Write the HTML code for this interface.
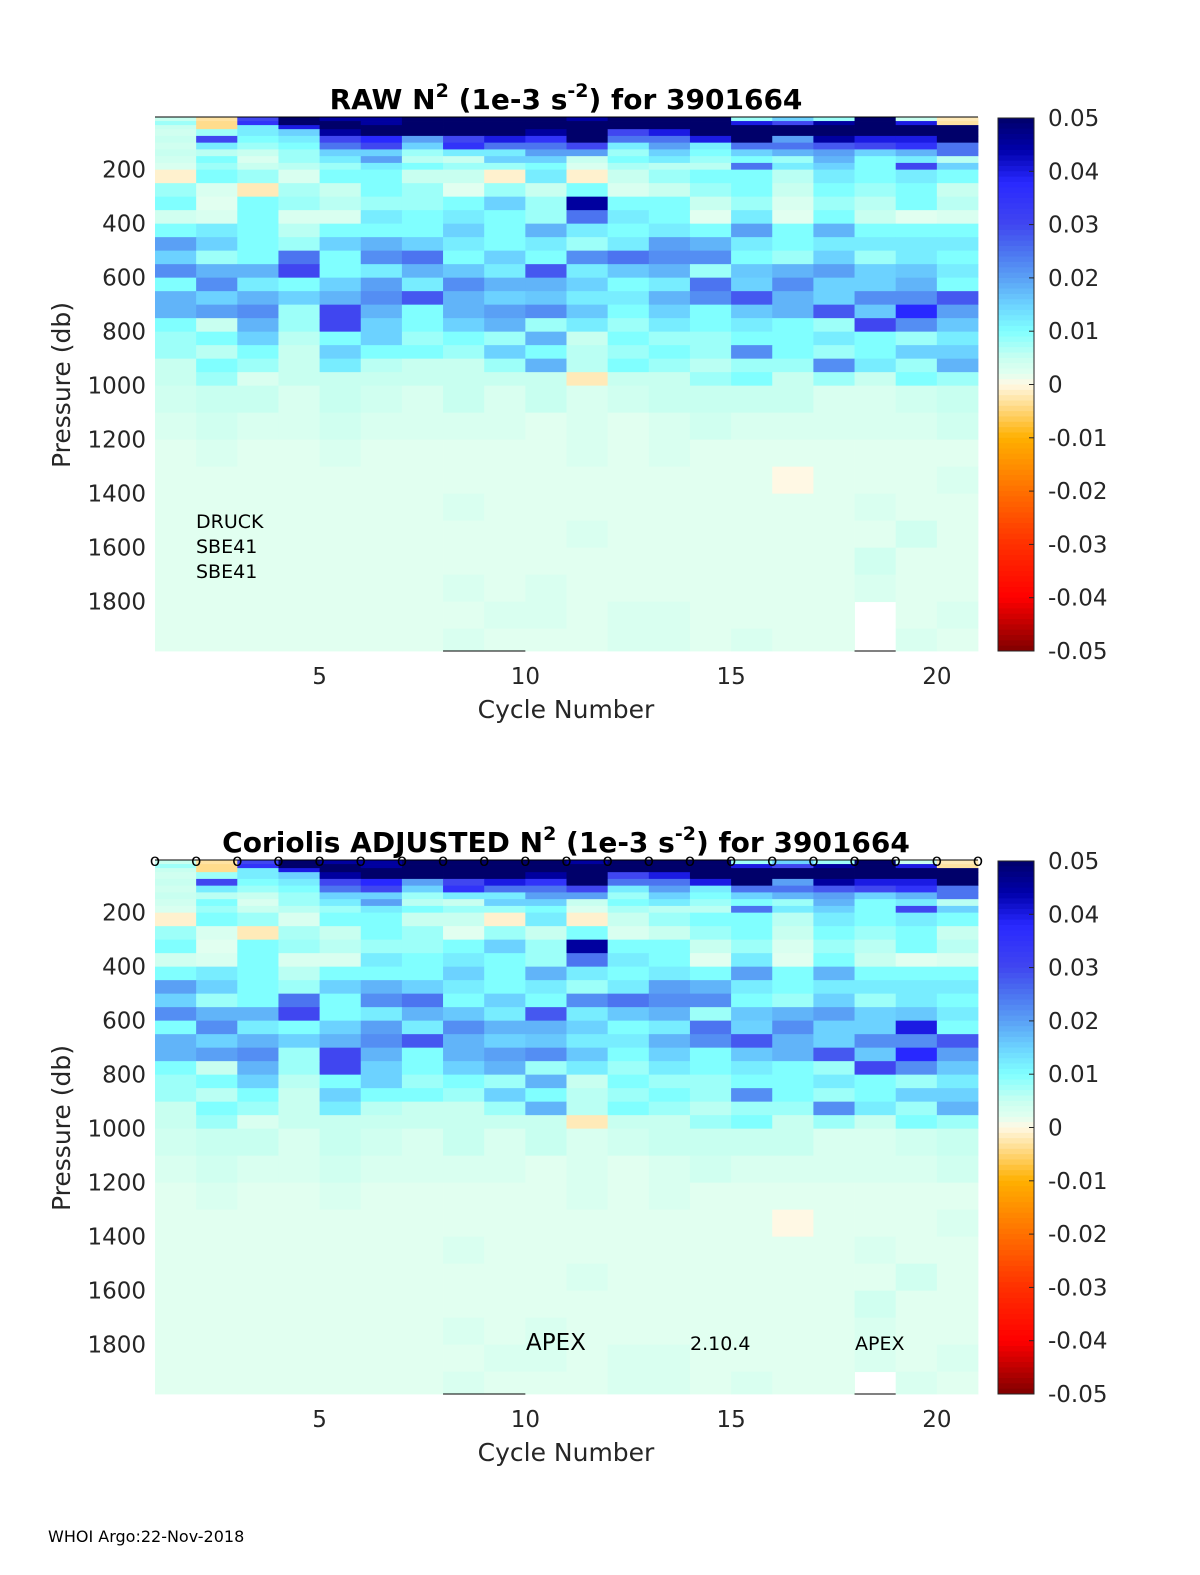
<!DOCTYPE html>
<html><head><meta charset="utf-8"><style>
html,body{margin:0;padding:0;background:#fff;width:1200px;height:1575px;overflow:hidden}
svg{display:block;font-family:"DejaVu Sans","Liberation Sans",sans-serif}
</style></head><body>
<svg id="fig" width="1200" height="1575" viewBox="0 0 1200 1575"></svg>
<script>
// ---- data (N^2 in 1e-3 s^-2, per cycle 1..20, per pressure bin) ----
const cycles = [1,2,3,4,5,6,7,8,9,10,11,12,13,14,15,16,17,18,19,20];
const pressureEdges = [5,20,35,50,75,100,125,150,175,200,250,300,350,400,450,500,550,600,650,700,750,800,850,900,950,1000,1100,1200,1300,1400,1500,1600,1700,1800,1900,1985];
const rawValues = [
[5,-3,30,50,45,45,50,50,50,50,45,50,50,50,8,15,8,50,5,-2],
[8,-4,35,50,50,45,50,50,50,50,50,50,50,50,40,30,45,50,40,-3],
[5,-4,12,40,50,50,50,50,50,50,50,50,50,50,50,50,50,50,50,50],
[4,8,12,15,45,50,50,50,50,45,50,30,40,50,50,50,50,50,50,50],
[5,30,10,12,30,38,20,30,40,35,50,25,25,40,50,20,45,40,40,50],
[4,12,8,10,25,30,15,35,25,25,30,12,20,12,25,25,28,30,35,25],
[5,6,5,8,15,15,8,12,12,20,20,8,15,10,15,18,20,15,18,25],
[4,10,3,8,12,20,6,5,15,15,5,10,12,8,10,8,18,10,12,6],
[3,8,5,6,8,12,10,8,8,10,3,7,6,6,25,12,15,10,30,15],
[-1,10,8,3,10,10,5,5,-1,12,-1,5,8,10,10,6,12,10,12,10],
[8,3,-2,7,5,10,8,2,8,5,10,3,5,8,10,5,10,8,10,5],
[10,2,10,8,6,8,8,10,15,8,45,10,10,5,8,3,8,6,10,6],
[4,3,10,3,3,12,10,12,10,8,25,12,10,2,12,2,10,5,2,3],
[10,12,10,6,10,10,10,15,10,18,12,10,12,10,20,10,18,10,10,10],
[20,15,10,8,15,18,15,12,10,12,8,12,20,18,12,10,12,12,12,12],
[15,8,10,25,10,22,25,10,15,10,22,25,22,22,10,8,15,8,12,10],
[22,18,18,30,10,12,18,16,12,28,12,16,18,8,16,18,20,15,16,12],
[10,22,12,10,15,20,12,22,18,18,15,10,12,25,15,22,15,15,18,10],
[18,15,18,15,18,22,28,18,15,16,12,12,18,22,28,18,15,22,22,28],
[18,20,22,8,30,18,10,18,20,22,16,10,15,10,16,18,28,16,38,20],
[10,5,18,8,30,15,10,15,18,8,12,8,12,10,12,10,8,30,22,16],
[8,10,15,6,10,15,8,10,8,18,5,10,8,8,10,10,12,10,8,12],
[8,6,10,5,15,10,10,8,15,10,6,8,10,8,22,10,8,10,15,15],
[5,10,8,5,12,6,5,5,8,18,6,10,8,6,8,8,22,12,8,18],
[5,8,3,5,5,5,5,5,5,5,-2,5,5,8,10,5,8,5,10,8],
[4,5,5,3,5,4,3,5,3,5,3,4,5,5,5,5,3,3,4,5],
[3,4,3,3,4,3,3,3,3,2,3,2,3,4,3,3,3,3,3,4],
[2,3,2,2,3,2,2,2,2,2,3,2,3,2,2,2,2,2,2,2],
[2,2,2,2,2,2,2,2,2,2,2,2,2,2,2,0,2,2,2,3],
[2,2,2,2,2,2,2,3,2,2,2,2,2,2,2,2,2,3,2,2],
[2,2,2,2,2,2,2,2,2,2,3,2,2,2,2,2,2,2,4,2],
[2,2,2,2,2,2,2,2,2,2,2,2,2,2,2,2,2,4,2,2],
[2,2,2,2,2,2,2,3,2,3,2,2,2,2,2,2,2,3,2,2],
[2,2,2,2,2,2,2,2,3,3,2,3,3,2,2,2,2,null,2,3],
[2,2,2,2,2,2,2,3,2,2,2,3,3,2,3,2,2,null,3,2]
];
const adjValues = [
[5,-3,30,50,45,45,50,50,50,50,45,50,50,50,8,15,8,50,5,-2],
[8,-4,35,50,50,45,50,50,50,50,50,50,50,50,40,30,45,50,40,-3],
[5,-4,12,40,50,50,50,50,50,50,50,50,50,50,50,50,50,50,50,50],
[4,8,12,15,45,50,50,50,50,45,50,30,40,50,50,50,50,50,50,50],
[5,30,10,12,30,38,20,30,40,35,50,25,25,40,50,20,45,40,40,50],
[4,12,8,10,25,30,15,35,25,25,30,12,20,12,25,25,28,30,35,25],
[5,6,5,8,15,15,8,12,12,20,20,8,15,10,15,18,20,15,18,25],
[4,10,3,8,12,20,6,5,15,15,5,10,12,8,10,8,18,10,12,6],
[3,8,5,6,8,12,10,8,8,10,3,7,6,6,25,12,15,10,30,15],
[-1,10,8,3,10,10,5,5,-1,12,-1,5,8,10,10,6,12,10,12,10],
[8,3,-2,7,5,10,8,2,8,5,10,3,5,8,10,5,10,8,10,5],
[10,2,10,8,6,8,8,10,15,8,45,10,10,5,8,3,8,6,10,6],
[4,3,10,3,3,12,10,12,10,8,25,12,10,2,12,2,10,5,2,3],
[10,12,10,6,10,10,10,15,10,18,12,10,12,10,20,10,18,10,10,10],
[20,15,10,8,15,18,15,12,10,12,8,12,20,18,12,10,12,12,12,12],
[15,8,10,25,10,22,25,10,15,10,22,25,22,22,10,8,15,8,12,10],
[22,18,18,30,10,12,18,16,12,28,12,16,18,8,16,18,20,15,16,12],
[10,22,12,10,15,20,12,22,18,18,15,10,12,25,15,22,15,15,40,10],
[18,15,18,15,18,22,28,18,15,16,12,12,18,22,28,18,15,22,22,28],
[18,20,22,8,30,18,10,18,20,22,16,10,15,10,16,18,28,16,38,20],
[10,5,18,8,30,15,10,15,18,8,12,8,12,10,12,10,8,30,22,16],
[8,10,15,6,10,15,8,10,8,18,5,10,8,8,10,10,12,10,8,12],
[8,6,10,5,15,10,10,8,15,10,6,8,10,8,22,10,8,10,15,15],
[5,10,8,5,12,6,5,5,8,18,6,10,8,6,8,8,22,12,8,18],
[5,8,3,5,5,5,5,5,5,5,-2,5,5,8,10,5,8,5,10,8],
[4,5,5,3,5,4,3,5,3,5,3,4,5,5,5,5,3,3,4,5],
[3,4,3,3,4,3,3,3,3,2,3,2,3,4,3,3,3,3,3,4],
[2,3,2,2,3,2,2,2,2,2,3,2,3,2,2,2,2,2,2,2],
[2,2,2,2,2,2,2,2,2,2,2,2,2,2,2,0,2,2,2,3],
[2,2,2,2,2,2,2,3,2,2,2,2,2,2,2,2,2,3,2,2],
[2,2,2,2,2,2,2,2,2,2,3,2,2,2,2,2,2,2,4,2],
[2,2,2,2,2,2,2,2,2,2,2,2,2,2,2,2,2,4,2,2],
[2,2,2,2,2,2,2,3,2,3,2,2,2,2,2,2,2,3,2,2],
[2,2,2,2,2,2,2,2,3,3,2,3,3,2,2,2,2,3,2,3],
[2,2,2,2,2,2,2,3,2,2,2,3,3,2,3,2,2,null,3,2]
];
const yTicks = [200,400,600,800,1000,1200,1400,1600,1800];
const xTicks = [5,10,15,20];
const cbTicks = [0.05,0.04,0.03,0.02,0.01,0,-0.01,-0.02,-0.03,-0.04,-0.05];
const cbLabels = ["0.05","0.04","0.03","0.02","0.01","0","-0.01","-0.02","-0.03","-0.04","-0.05"];

const NS="http://www.w3.org/2000/svg";
const svg=document.getElementById('fig');
function mk(tag,attrs,parent,text){const e=document.createElementNS(NS,tag);for(const k in attrs)e.setAttribute(k,attrs[k]);if(text!==undefined)e.textContent=text;(parent||svg).appendChild(e);return e;}

const stops=[[-50,[128,0,0]],[-40,[255,0,0]],[-30,[255,48,0]],[-20,[255,112,0]],[-10,[255,176,0]],[-4,[255,220,140]],[0,[255,248,228]],[2,[225,255,240]],[5,[200,255,240]],[10,[128,255,255]],[15,[108,210,255]],[20,[90,160,245]],[25,[76,116,240]],[30,[64,70,240]],[38,[40,40,255]],[44,[0,0,170]],[50,[0,0,106]]];
function cmap(v){v=Math.max(-50,Math.min(50,v));for(let i=1;i<stops.length;i++){if(v<=stops[i][0]){const a=stops[i-1],b=stops[i];const t=(v-a[0])/(b[0]-a[0]);const c=a[1].map((x,j)=>Math.round(x+(b[1][j]-x)*t));return `rgb(${c[0]},${c[1]},${c[2]})`;}}return 'rgb(0,0,106)';}

function panel(top,values,name,titleParts){
  const L=155,R=978,B=top+534;
  const xs=c=>L+(c-1)*(R-L)/20;
  const ys=p=>top+(p-5)*0.27;
  const g=mk('g',{});
  
  
  for(let r=0;r<values.length;r++){
    for(let ci=0;ci<cycles.length;ci++){
      const v=values[r][ci];
      if(v===null)continue;
      const x0=xs(cycles[ci]),x1=xs(cycles[ci]+1);
      const y0=ys(pressureEdges[r]),y1=Math.min(B,ys(pressureEdges[r+1]));
      const rc=mk('rect',{x:x0.toFixed(2),y:y0.toFixed(2),width:(x1-x0+0.4).toFixed(2),height:(y1-y0+0.4).toFixed(2),fill:cmap(v)},g);
      
      
    }
  }
  mk('line',{x1:L,y1:top,x2:R,y2:top,stroke:'#000','stroke-width':1},g);
  mk('line',{x1:xs(8),y1:B,x2:xs(10),y2:B,stroke:'#000','stroke-width':1},g);
  mk('line',{x1:xs(18),y1:B,x2:xs(19),y2:B,stroke:'#000','stroke-width':1},g);
  yTicks.forEach(p=>{const t=mk('text',{x:146,y:ys(p)+8,'text-anchor':'end','font-size':23,fill:'#262626'},g,String(p));
    });
  xTicks.forEach(c=>{const t=mk('text',{x:xs(c),y:B+33,'text-anchor':'middle','font-size':23,fill:'#262626'},g,String(c));
    });
  const xl=mk('text',{x:566,y:B+67,'text-anchor':'middle','font-size':25,fill:'#262626'},g,'Cycle Number');
  
  const yl=mk('text',{x:0,y:0,transform:`translate(70,${top+268}) rotate(-90)`,'text-anchor':'middle','font-size':25,fill:'#262626'},g,'Pressure (db)');
  
  const tt=mk('text',{x:566,y:top-8,'text-anchor':'middle','font-size':28,'font-weight':'bold',fill:'#000'},g);
  
  titleParts.forEach(p=>{mk('tspan',p.sup?{dy:-12,'font-size':19}:(p.down?{dy:12}:{}),tt,p.t);});
  // colorbar
  const cb=mk('g',{},g);
  
  const cT=top+1,cB=B,cL=998,cR=1034;
  const cy=v=>cT+(0.05-v)/0.1*(cB-cT);
  for(let i=0;i<100;i++){const v1=50-i,v0=49-i;mk('rect',{x:cL,y:cy(v1/1000),width:cR-cL,height:(cy(v0/1000)-cy(v1/1000)+0.5),fill:cmap((v1+v0)/2)},cb);}
  mk('rect',{x:cL,y:cT,width:cR-cL,height:cB-cT,fill:'none',stroke:'#262626','stroke-width':1},cb);
  cbTicks.forEach((v,i)=>{mk('line',{x1:cR-5,y1:cy(v),x2:cR,y2:cy(v),stroke:'#262626'},cb);
    const t=mk('text',{x:1048,y:cy(v)+8,'font-size':23,fill:'#262626'},cb,cbLabels[i]);
    });
  return {xs,ys,g};
}
const p1=panel(117,rawValues,'raw-n2-panel',[{t:'RAW N'},{t:'2',sup:true},{t:' (1e-3 s',down:true},{t:'-2',sup:true},{t:') for 3901664',down:true}]);
[['DRUCK',528],['SBE41',553],['SBE41',578]].forEach(([s,y])=>{const t=mk('text',{x:196,y:y,'font-size':19,fill:'#000'},p1.g,s);
  });
const p2=panel(860,adjValues,'adjusted-n2-panel',[{t:'Coriolis  ADJUSTED N'},{t:'2',sup:true},{t:' (1e-3 s',down:true},{t:'-2',sup:true},{t:') for 3901664',down:true}]);
for(let c=1;c<=21;c++){const o=mk('text',{x:p2.xs(c),y:866,'text-anchor':'middle','font-size':17,fill:'#000'},p2.g,'o');
  }
[['APEX',526,1350,23],['2.10.4',690,1350,19],['APEX',855,1350,19]].forEach(([s,x,y,f])=>{const t=mk('text',{x:x,y:y,'font-size':f,fill:'#000'},p2.g,s);
  });
const ft=mk('text',{x:48,y:1542,'font-size':16,fill:'#000'},svg,'WHOI Argo:22-Nov-2018');

</script>
</body></html>
